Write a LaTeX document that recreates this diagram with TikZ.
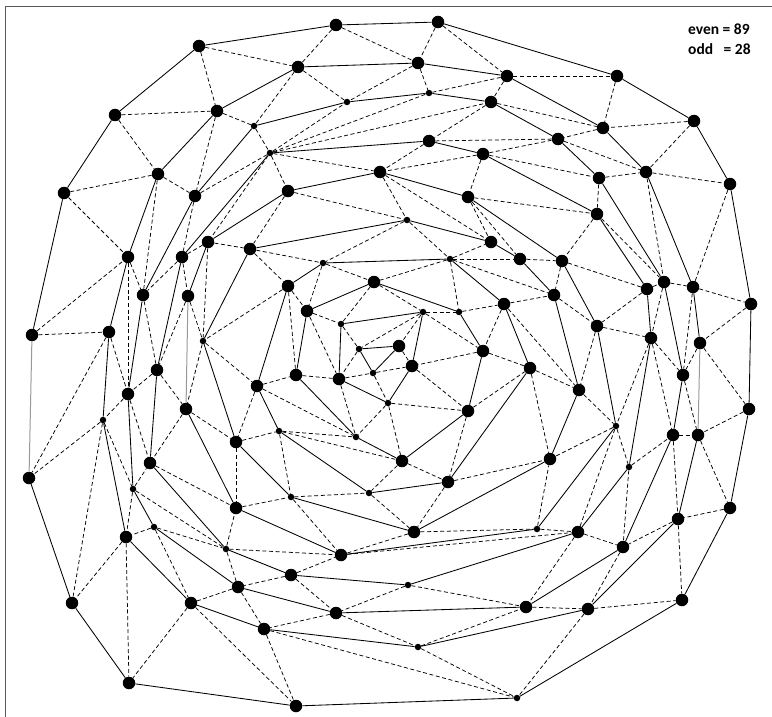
\documentclass[tikz,border=0pt]{standalone}
\usepackage{fontspec}
\newfontfamily\calib{Carlito}

\begin{document}
\begin{tikzpicture}[x=1pt, y=-1pt,
    ev/.style={circle, fill=black, minimum size=12.5pt, inner sep=0pt},
    od/.style={circle, fill=black, minimum size=6.5pt, inner sep=0pt},
    ring/.style={black, line width=0.85pt, line join=round},
    tri/.style={black, line width=0.75pt, dash pattern=on 4pt off 2.6pt},
    fade/.style={black!40, line width=1pt},
  ]
  \useasboundingbox (0,0) rectangle (772,717);
  % frame
  \draw[black!65, line width=1pt] (5,717) -- (5,7) -- (772,7);

  % even vertices
  \node[ev] (e1) at (336,25) {};
  \node[ev] (e2) at (438,22) {};
  \node[ev] (e3) at (199,46) {};
  \node[ev] (e4) at (298,67) {};
  \node[ev] (e5) at (418,63) {};
  \node[ev] (e6) at (507,76) {};
  \node[ev] (e7) at (617,76) {};
  \node[ev] (e8) at (115,115) {};
  \node[ev] (e9) at (217,111) {};
  \node[ev] (e10) at (491,102) {};
  \node[ev] (e11) at (694,121) {};
  \node[ev] (e12) at (603,128) {};
  \node[ev] (e13) at (158,174) {};
  \node[ev] (e14) at (429,141) {};
  \node[ev] (e15) at (483,154) {};
  \node[ev] (e16) at (558,139) {};
  \node[ev] (e17) at (64,193) {};
  \node[ev] (e18) at (195,196) {};
  \node[ev] (e19) at (288,191) {};
  \node[ev] (e20) at (380,172) {};
  \node[ev] (e21) at (468,197) {};
  \node[ev] (e22) at (599,178) {};
  \node[ev] (e23) at (646,172) {};
  \node[ev] (e24) at (730,184) {};
  \node[ev] (e25) at (597,214) {};
  \node[ev] (e26) at (208,242) {};
  \node[ev] (e27) at (250,249) {};
  \node[ev] (e28) at (491,242) {};
  \node[ev] (e29) at (128,257) {};
  \node[ev] (e30) at (182,257) {};
  \node[ev] (e31) at (520,259) {};
  \node[ev] (e32) at (562,261) {};
  \node[ev] (e33) at (143,295) {};
  \node[ev] (e34) at (188,296) {};
  \node[ev] (e35) at (288,286) {};
  \node[ev] (e36) at (374,282) {};
  \node[ev] (e37) at (504,304) {};
  \node[ev] (e38) at (554,295) {};
  \node[ev] (e39) at (647,289) {};
  \node[ev] (e40) at (664,282) {};
  \node[ev] (e41) at (693,287) {};
  \node[ev] (e42) at (751,304) {};
  \node[ev] (e43) at (307,311) {};
  \node[ev] (e44) at (32,335) {};
  \node[ev] (e45) at (109,332) {};
  \node[ev] (e46) at (597,326) {};
  \node[ev] (e47) at (651,338) {};
  \node[ev] (e48) at (700,343) {};
  \node[ev] (e49) at (399,346) {};
  \node[ev] (e50) at (483,351) {};
  \node[ev] (e51) at (157,370) {};
  \node[ev] (e52) at (128,394) {};
  \node[ev] (e53) at (186,409) {};
  \node[ev] (e54) at (257,386) {};
  \node[ev] (e55) at (296,375) {};
  \node[ev] (e56) at (339,379) {};
  \node[ev] (e57) at (412,366) {};
  \node[ev] (e58) at (468,411) {};
  \node[ev] (e59) at (530,368) {};
  \node[ev] (e60) at (579,390) {};
  \node[ev] (e61) at (683,375) {};
  \node[ev] (e62) at (749,409) {};
  \node[ev] (e63) at (673,435) {};
  \node[ev] (e64) at (698,435) {};
  \node[ev] (e65) at (236,442) {};
  \node[ev] (e66) at (402,461) {};
  \node[ev] (e67) at (150,463) {};
  \node[ev] (e68) at (550,459) {};
  \node[ev] (e69) at (29,478) {};
  \node[ev] (e70) at (448,482) {};
  \node[ev] (e71) at (236,508) {};
  \node[ev] (e72) at (730,508) {};
  \node[ev] (e73) at (678,519) {};
  \node[ev] (e74) at (414,532) {};
  \node[ev] (e75) at (578,532) {};
  \node[ev] (e76) at (126,537) {};
  \node[ev] (e77) at (341,555) {};
  \node[ev] (e78) at (623,547) {};
  \node[ev] (e79) at (291,575) {};
  \node[ev] (e80) at (238,587) {};
  \node[ev] (e81) at (72,603) {};
  \node[ev] (e82) at (191,603) {};
  \node[ev] (e83) at (526,607) {};
  \node[ev] (e84) at (588,609) {};
  \node[ev] (e85) at (682,600) {};
  \node[ev] (e86) at (336,613) {};
  \node[ev] (e87) at (264,629) {};
  \node[ev] (e88) at (129,683) {};
  \node[ev] (e89) at (296,706) {};

  % odd vertices
  \node[od] (o1) at (254,126) {};
  \node[od] (o2) at (270,153) {};
  \node[od] (o3) at (347,102) {};
  \node[od] (o4) at (429,93) {};
  \node[od] (o5) at (407,220) {};
  \node[od] (o6) at (323,263) {};
  \node[od] (o7) at (450,259) {};
  \node[od] (o8) at (423,312) {};
  \node[od] (o9) at (459,312) {};
  \node[od] (o10) at (341,324) {};
  \node[od] (o11) at (203,341) {};
  \node[od] (o12) at (359,349) {};
  \node[od] (o13) at (103,420) {};
  \node[od] (o14) at (373,373) {};
  \node[od] (o15) at (388,403) {};
  \node[od] (o16) at (279,431) {};
  \node[od] (o17) at (356,437) {};
  \node[od] (o18) at (616,426) {};
  \node[od] (o19) at (133,489) {};
  \node[od] (o20) at (291,497) {};
  \node[od] (o21) at (369,493) {};
  \node[od] (o22) at (629,467) {};
  \node[od] (o23) at (154,527) {};
  \node[od] (o24) at (537,529) {};
  \node[od] (o25) at (226,549) {};
  \node[od] (o26) at (408,585) {};
  \node[od] (o27) at (418,647) {};
  \node[od] (o28) at (517,698) {};

  % solid rings, outside in
  \draw[ring] (e44)--(e17)--(e8)--(e3)--(e1)--(e2)--(e7)--(e11)--(e24)--(e42)
    --(e62)--(e72)--(e85)--(o28)--(e89)--(e88)--(e81)--(e69);
  \draw[ring] (e64)--(e73)--(e84)--(o27)--(e87)--(e82)--(e76)--(o13)--(e45)
    --(e29)--(e13)--(e9)--(e4)--(e5)--(e6)--(e12)--(e23)--(e41)--(e48);
  \draw[ring] (o1)--(o3)--(o4)--(e10)--(e16)--(e22)--(e40)--(e61)--(e63)--(e78)
    --(e83)--(e86)--(e80)--(o23)--(o19)--(e52)--(e33)--(e18)--(o1);
  \draw[ring] (o2)--(e14)--(e15)--(e25)--(e39)--(e47)--(o22)--(e75)--(o26)--(e79)
    --(o25)--(e67)--(e51)--(e30)--(o2);
  \draw[ring] (e34)--(e26)--(e19)--(e20)--(e21)--(e32)--(e46)--(o18)--(o24)--(e77)
    --(e71)--(e53);
  \draw[ring] (e27)--(o5)--(e28)--(e31)--(e38)--(e60)--(e68)--(e74)--(o20)--(e65)
    --(o11)--(e27);
  \draw[ring] (o6)--(o7)--(e37)--(e59)--(e70)--(o21)--(o16)--(e54)--(e35)--(o6);
  \draw[ring] (e36)--(o9)--(e50)--(e58)--(e66)--(o17)--(e55)--(e43)--(e36);
  \draw[ring] (o10)--(o8)--(e57)--(o15)--(e56)--(o10);
  \draw[ring] (o12)--(e49)--(o14)--(o12);
  % near-vertical pieces come out grey
  \draw[fade] (e69)--(e44); \draw[fade] (e48)--(e64); \draw[fade] (e53)--(e34);

  % dashed edges between ring 1 and ring 2
  \draw[tri] (e3)--(e9); \draw[tri] (e3)--(e4); \draw[tri] (e1)--(e4); \draw[tri] (e1)--(e5);
  \draw[tri] (e2)--(e5); \draw[tri] (e2)--(e6); \draw[tri] (e6)--(e7); \draw[tri] (e7)--(e12);
  \draw[tri] (e11)--(e12); \draw[tri] (e11)--(e23); \draw[tri] (e23)--(e24); \draw[tri] (e24)--(e41);
  \draw[tri] (e41)--(e42); \draw[tri] (e42)--(e48); \draw[tri] (e48)--(e62); \draw[tri] (e62)--(e64);
  \draw[tri] (e64)--(e72); \draw[tri] (e72)--(e73); \draw[tri] (e73)--(e85); \draw[tri] (e84)--(e85);
  \draw[tri] (e84)--(o28); \draw[tri] (o27)--(o28); \draw[tri] (e87)--(o28); \draw[tri] (e87)--(e89);
  \draw[tri] (e82)--(e89); \draw[tri] (e82)--(e88); \draw[tri] (e76)--(e88); \draw[tri] (e76)--(e81);
  \draw[tri] (o13)--(e81); \draw[tri] (o13)--(e69); \draw[tri] (e45)--(e69); \draw[tri] (e44)--(e45);
  \draw[tri] (e44)--(e29); \draw[tri] (e17)--(e29); \draw[tri] (e13)--(e17); \draw[tri] (e8)--(e13);
  \draw[tri] (e8)--(e9);

  % ring 2 to ring 3
  \draw[tri] (e9)--(o1); \draw[tri] (e4)--(o1); \draw[tri] (e4)--(o3); \draw[tri] (e5)--(o3);
  \draw[tri] (e5)--(o4); \draw[tri] (e6)--(o4); \draw[tri] (e6)--(e10); \draw[tri] (e10)--(e12);
  \draw[tri] (e12)--(e16); \draw[tri] (e16)--(e23); \draw[tri] (e22)--(e23); \draw[tri] (e23)--(e40);
  \draw[tri] (e40)--(e41); \draw[tri] (e41)--(e61); \draw[tri] (e48)--(e61); \draw[tri] (e61)--(e64);
  \draw[tri] (e63)--(e64); \draw[tri] (e63)--(e73); \draw[tri] (e73)--(e78); \draw[tri] (e78)--(e84);
  \draw[tri] (e83)--(e84); \draw[tri] (o27)--(e83); \draw[tri] (e86)--(o27); \draw[tri] (e86)--(e87);
  \draw[tri] (e80)--(e87); \draw[tri] (e80)--(e82); \draw[tri] (o23)--(e82); \draw[tri] (o23)--(e76);
  \draw[tri] (o19)--(e76); \draw[tri] (o13)--(o19); \draw[tri] (e52)--(o13); \draw[tri] (e45)--(e52);
  \draw[tri] (e29)--(e52); \draw[tri] (e29)--(e33); \draw[tri] (e13)--(e33); \draw[tri] (e13)--(e18);
  \draw[tri] (e9)--(e18);

  % ring 3 to ring 4
  \draw[tri] (o1)--(o2); \draw[tri] (o2)--(o3); \draw[tri] (o2)--(o4); \draw[tri] (o2)--(e10);
  \draw[tri] (e10)--(e14); \draw[tri] (e14)--(e16); \draw[tri] (e15)--(e16); \draw[tri] (e15)--(e22);
  \draw[tri] (e22)--(e25); \draw[tri] (e25)--(e40); \draw[tri] (e39)--(e40); \draw[tri] (e40)--(e47);
  \draw[tri] (e47)--(e61); \draw[tri] (e47)--(e63); \draw[tri] (o22)--(e63); \draw[tri] (o22)--(e78);
  \draw[tri] (e75)--(e78); \draw[tri] (e75)--(e83); \draw[tri] (o26)--(e83); \draw[tri] (o26)--(e86);
  \draw[tri] (e79)--(e86); \draw[tri] (e79)--(e80); \draw[tri] (o25)--(e80); \draw[tri] (o23)--(o25);
  \draw[tri] (o19)--(o25); \draw[tri] (o19)--(e67); \draw[tri] (e52)--(e67); \draw[tri] (e51)--(e52);
  \draw[tri] (e33)--(e51); \draw[tri] (e30)--(e33); \draw[tri] (e18)--(e30); \draw[tri] (e18)--(o2);

  % ring 4 to ring 5
  \draw[tri] (o2)--(e19); \draw[tri] (o2)--(e20); \draw[tri] (e14)--(e20); \draw[tri] (e15)--(e20);
  \draw[tri] (e15)--(e21); \draw[tri] (e21)--(e25); \draw[tri] (e25)--(e32); \draw[tri] (e32)--(e39);
  \draw[tri] (e39)--(e46); \draw[tri] (e46)--(e47); \draw[tri] (e47)--(o18); \draw[tri] (o18)--(o22);
  \draw[tri] (o18)--(e75); \draw[tri] (o24)--(e75); \draw[tri] (e77)--(e75); \draw[tri] (e79)--(e77);
  \draw[tri] (o25)--(e77); \draw[tri] (o25)--(e71); \draw[tri] (e67)--(e71); \draw[tri] (e53)--(e67);
  \draw[tri] (e51)--(e53); \draw[tri] (e34)--(e51); \draw[tri] (e30)--(e34); \draw[tri] (e26)--(e30);
  \draw[tri] (o2)--(e26);

  % ring 5 to ring 6
  \draw[tri] (e19)--(e27); \draw[tri] (e19)--(o5); \draw[tri] (e20)--(o5); \draw[tri] (e20)--(e28);
  \draw[tri] (e21)--(e28); \draw[tri] (e21)--(e31); \draw[tri] (e31)--(e32); \draw[tri] (e32)--(e38);
  \draw[tri] (e38)--(e46); \draw[tri] (e46)--(e60); \draw[tri] (e60)--(o18); \draw[tri] (o18)--(e68);
  \draw[tri] (o24)--(e68); \draw[tri] (e74)--(o24); \draw[tri] (e74)--(e77); \draw[tri] (o20)--(e77);
  \draw[tri] (e71)--(o20); \draw[tri] (e65)--(e71); \draw[tri] (e53)--(e65); \draw[tri] (o11)--(e53);
  \draw[tri] (e34)--(o11); \draw[tri] (e26)--(o11); \draw[tri] (e26)--(e27);

  % ring 6 to ring 7
  \draw[tri] (e27)--(o6); \draw[tri] (o5)--(o6); \draw[tri] (o5)--(o7); \draw[tri] (o7)--(e28);
  \draw[tri] (o7)--(e31); \draw[tri] (o7)--(e38); \draw[tri] (e37)--(e38); \draw[tri] (e37)--(e60);
  \draw[tri] (e59)--(e60); \draw[tri] (e59)--(e68); \draw[tri] (e70)--(e68); \draw[tri] (e70)--(e74);
  \draw[tri] (o21)--(e74); \draw[tri] (o20)--(o21); \draw[tri] (o16)--(o20); \draw[tri] (e65)--(o16);
  \draw[tri] (e54)--(e65); \draw[tri] (o11)--(e54); \draw[tri] (e35)--(o11); \draw[tri] (e27)--(e35);

  % ring 7 to ring 8
  \draw[tri] (o6)--(e36); \draw[tri] (o7)--(e36); \draw[tri] (o7)--(o9); \draw[tri] (o9)--(e37);
  \draw[tri] (e37)--(e50); \draw[tri] (e50)--(e59); \draw[tri] (e58)--(e59); \draw[tri] (e58)--(e70);
  \draw[tri] (e66)--(e70); \draw[tri] (e66)--(o21); \draw[tri] (o16)--(e66); \draw[tri] (o16)--(o17);
  \draw[tri] (e54)--(o17); \draw[tri] (e54)--(e55); \draw[tri] (e35)--(e55); \draw[tri] (e35)--(e43);
  \draw[tri] (o6)--(e43);

  % ring 8 to ring 9
  \draw[tri] (e36)--(o10); \draw[tri] (e36)--(o8); \draw[tri] (o8)--(o9); \draw[tri] (o8)--(e50);
  \draw[tri] (e50)--(e57); \draw[tri] (e57)--(e58); \draw[tri] (o15)--(e58); \draw[tri] (o15)--(e66);
  \draw[tri] (o15)--(o17); \draw[tri] (e56)--(o17); \draw[tri] (e55)--(e56); \draw[tri] (e43)--(e56);
  \draw[tri] (e43)--(o10);

  % centre
  \draw[tri] (o10)--(o12); \draw[tri] (o8)--(o12); \draw[tri] (o8)--(e49); \draw[tri] (e49)--(e57);
  \draw[tri] (o14)--(e57); \draw[tri] (o14)--(o15); \draw[tri] (e56)--(o14); \draw[tri] (o12)--(e56);

  % counts
  \node[font=\calib\bfseries\fontsize{15.5}{20}\selectfont, align=left, anchor=north west,
        inner sep=0pt] (cnt) at (688,24) {even = 89\\odd\ \ \ = 28};
\end{tikzpicture}
\end{document}
